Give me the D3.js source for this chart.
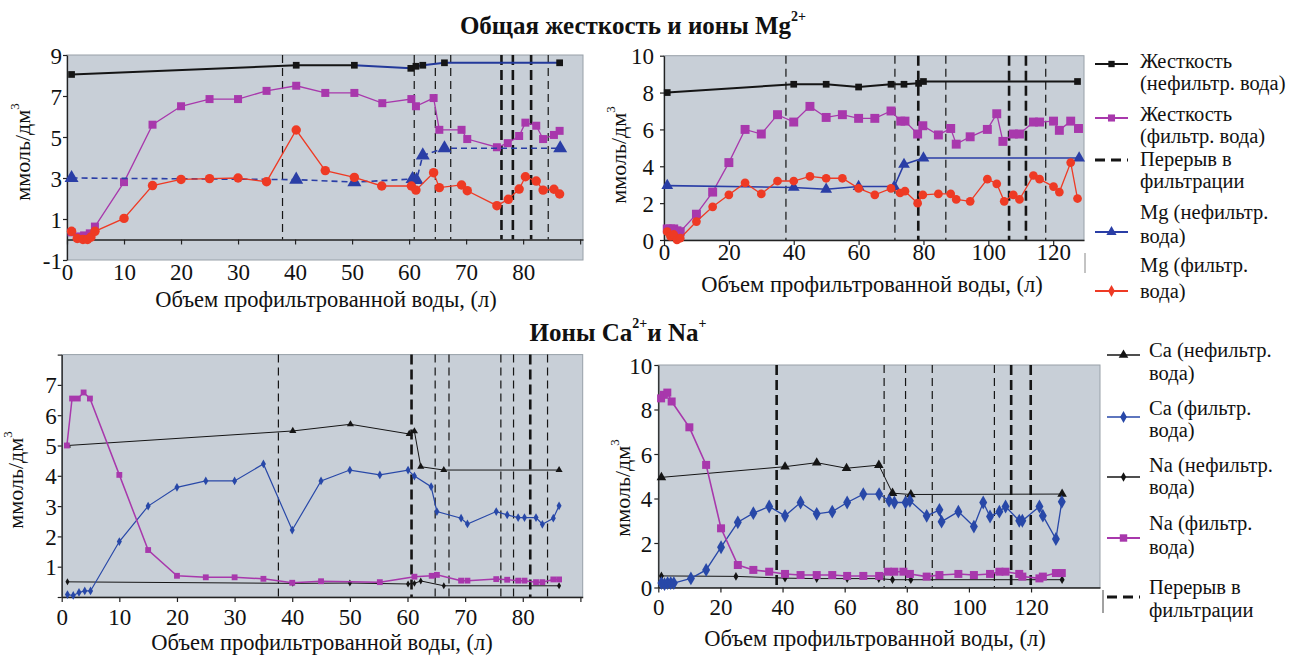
<!DOCTYPE html>
<html>
<head>
<meta charset="utf-8">
<script src="https://cdn.jsdelivr.net/npm/d3@7"></script>
<style>
  body { margin: 0; background: #fff; }
  text, tspan { font-family: 'Liberation Serif' !important; }
</style>
</head>
<body>
<svg width="1303" height="656"></svg>
<script>
// ---- top left: hardness + Mg, first run ----
var hardRawA_x = [0.8, 40.2, 50.4, 60.3, 61.2, 62.4, 66.2, 86.4];
var hardRawA_y = [8.05, 8.5, 8.5, 8.35, 8.45, 8.5, 8.62, 8.62];
var hardFiltA_x = [0.8, 2, 3, 4, 4.9, 10, 15, 20, 25, 30, 35, 40.2, 45.3, 50.4, 55.3, 60.4, 61.2, 64.3, 65.3, 69.2, 70.2, 75.4, 77.3, 79.3, 80.4, 82.3, 83.5, 85.4, 86.4];
var hardFiltA_y = [0.35, 0.15, 0.2, 0.3, 0.63, 2.8, 5.6, 6.5, 6.85, 6.85, 7.25, 7.5, 7.15, 7.15, 6.65, 6.85, 6.5, 6.9, 5.35, 5.35, 4.9, 4.5, 4.7, 5.05, 5.7, 5.55, 4.9, 5.1, 5.3];
var mgRawA_x = [0.8, 40.2, 50.4, 60.6, 61.3, 62.4, 66.2, 86.5];
var mgRawA_y = [3.0, 2.92, 2.8, 2.95, 2.9, 4.1, 4.45, 4.45];
var mgFiltA_x = [0.8, 1.8, 2.8, 3.6, 4.2, 4.9, 10, 15, 20, 25, 30, 35, 40.2, 45.3, 50.4, 55.2, 60.4, 61.2, 64.3, 65.3, 69.2, 70.2, 75.4, 77.4, 79.3, 80.4, 82.3, 83.5, 85.4, 86.4];
var mgFiltA_y = [0.4, 0.05, 0.0, 0.0, 0.12, 0.4, 1.03, 2.63, 2.93, 2.97, 3.0, 2.82, 5.34, 3.36, 3.03, 2.61, 2.61, 2.41, 3.26, 2.53, 2.66, 2.38, 1.65, 1.96, 2.46, 3.06, 2.85, 2.41, 2.45, 2.22];
var breaksA = [37.8, 60.9, 64.6, 67.3, 84.4];
var breaksAWide = [76.2, 78.2, 81.4];
var xTicksA = [0, 10, 20, 30, 40, 50, 60, 70, 80, 90];
var yTicksA = [-1, 1, 3, 5, 7, 9];

// ---- top right: hardness + Mg, second run ----
var hardRawB_x = [1, 40, 50, 60, 70, 74, 78.5, 80, 127.5];
var hardRawB_y = [8.0, 8.45, 8.45, 8.3, 8.45, 8.45, 8.5, 8.6, 8.6];
var hardFiltB_x = [1, 2, 3, 4, 5, 10, 15, 20, 25, 30, 35, 40, 45, 50, 55, 60, 65, 70, 73, 74.3, 78.2, 79.8, 84.6, 88.4, 90.1, 94.4, 99.7, 102.6, 104.5, 107.7, 109.6, 113.9, 115.8, 120.1, 121.9, 125.4, 127.8];
var hardFiltB_y = [0.6, 0.6, 0.6, 0.5, 0.45, 1.4, 2.6, 4.2, 6.0, 5.75, 6.8, 6.4, 7.25, 6.65, 6.8, 6.6, 6.6, 7.0, 6.45, 6.45, 5.75, 6.2, 5.7, 6.05, 5.2, 5.6, 6.0, 6.85, 5.35, 5.75, 5.75, 6.4, 6.4, 6.45, 5.95, 6.45, 6.05];
var mgRawB_x = [1, 40, 50, 60, 71, 74, 80, 128];
var mgRawB_y = [2.95, 2.85, 2.75, 2.9, 2.9, 4.1, 4.45, 4.45];
var mgFiltB_x = [1, 2, 3, 4, 5, 10, 15, 20, 25, 30, 35, 40, 45, 50, 55, 60, 65, 70, 72.8, 74.3, 78.2, 79.8, 84.6, 88.4, 90.1, 94.4, 99.7, 102.6, 104.9, 107.7, 109.6, 113.9, 115.8, 120.1, 121.9, 125.4, 127.5];
var mgFiltB_y = [0.45, 0.2, 0.3, 0.0, 0.1, 1.0, 1.8, 2.45, 3.1, 2.5, 3.2, 3.2, 3.45, 3.35, 3.35, 2.8, 2.45, 2.8, 2.55, 2.65, 2.0, 2.45, 2.5, 2.5, 2.2, 2.1, 3.3, 3.05, 2.1, 2.45, 2.2, 3.5, 3.3, 2.9, 2.6, 4.2, 2.25];
var breaksB = [37.6, 71.2, 86.9, 117.7];
var breaksBWide = [78.4, 106.4, 111.6];
var xTicksB = [0, 20, 40, 60, 80, 100, 120];
var yTicksB = [0, 2, 4, 6, 8, 10];

// ---- bottom left: Ca + Na, first run ----
var caRawC_x = [1, 40.1, 50.1, 60.3, 61.2, 62.3, 66.3, 86.3];
var caRawC_y = [5.0, 5.48, 5.7, 5.38, 5.47, 4.3, 4.19, 4.19];
var caFiltC_x = [1, 2, 3, 4, 5, 10, 15, 20, 25, 30, 35, 40, 45, 50, 55.2, 60.1, 61.2, 64.1, 65.1, 69.3, 70.4, 75.4, 77.3, 79.2, 80.3, 82.3, 83.4, 85.3, 86.3];
var caFiltC_y = [0.08, 0.05, 0.15, 0.2, 0.2, 1.83, 3.0, 3.62, 3.83, 3.83, 4.39, 2.21, 3.83, 4.19, 4.03, 4.19, 3.99, 3.64, 2.82, 2.6, 2.41, 2.82, 2.71, 2.62, 2.62, 2.62, 2.4, 2.6, 3.01];
var naRawC_x = [1, 40.1, 50, 60.1, 61.2, 62.3, 66.3, 86.3];
var naRawC_y = [0.5, 0.45, 0.46, 0.43, 0.45, 0.53, 0.37, 0.37];
var naFiltC_x = [0.9, 1.8, 2.8, 3.8, 4.9, 10, 15, 20, 25, 30, 35, 40, 45, 55.2, 61.2, 64.2, 65.1, 69.3, 70.4, 75.4, 77.3, 79.2, 80.3, 82.3, 83.4, 85.3, 86.3];
var naFiltC_y = [5.0, 6.55, 6.55, 6.75, 6.55, 4.03, 1.55, 0.7, 0.65, 0.65, 0.6, 0.47, 0.52, 0.49, 0.67, 0.7, 0.73, 0.54, 0.54, 0.59, 0.57, 0.54, 0.54, 0.49, 0.49, 0.58, 0.58];
var breaksC = [37.6, 64.8, 67.2, 76.2, 78.4, 84.3];
var breaksCWide = [60.7, 81.3];
var xTicksC = [0, 10, 20, 30, 40, 50, 60, 70, 80, 90];
var yTicksC = [0, 1, 2, 3, 4, 5, 6, 7, 8];

// ---- bottom right: Ca + Na, second run ----
var caRawD_x = [1, 40.8, 51, 60.6, 71, 75.4, 81.3, 130];
var caRawD_y = [4.95, 5.43, 5.61, 5.36, 5.5, 4.24, 4.18, 4.2];
var caFiltD_x = [1, 2, 3, 4, 5, 10.5, 15.4, 20.2, 25.6, 30.6, 35.7, 40.8, 45.8, 51, 56, 60.8, 66, 71.1, 74.3, 76, 79.6, 81, 86.4, 90.5, 91.2, 96.6, 101.6, 104.6, 106.8, 109.8, 111.8, 116.2, 117.2, 122.7, 123.8, 128, 129.9];
var caFiltD_y = [0.2, 0.15, 0.2, 0.2, 0.2, 0.41, 0.79, 1.81, 2.93, 3.34, 3.64, 3.22, 3.82, 3.31, 3.41, 3.82, 4.2, 4.2, 3.9, 3.82, 3.82, 3.9, 3.22, 3.49, 2.96, 3.41, 2.74, 3.82, 3.19, 3.41, 3.64, 3.0, 3.0, 3.64, 3.23, 2.18, 3.85];
var naRawD_x = [1, 25, 40.8, 51, 60.8, 71, 75.4, 81.3, 130];
var naRawD_y = [0.52, 0.5, 0.42, 0.4, 0.4, 0.4, 0.35, 0.35, 0.35];
var naFiltD_x = [0.9, 1.8, 2.9, 4.3, 10, 15.4, 20.2, 25.6, 30.6, 35.7, 40.8, 45.8, 51, 56, 60.8, 66, 71.1, 73.9, 76, 78.9, 81, 86.4, 90.5, 96.6, 101.6, 106.8, 109.8, 111.8, 116.2, 117.2, 122.7, 123.8, 128, 129.9];
var naFiltD_y = [8.5, 8.66, 8.76, 8.36, 7.2, 5.51, 2.66, 1.01, 0.79, 0.71, 0.61, 0.56, 0.56, 0.56, 0.52, 0.52, 0.52, 0.71, 0.71, 0.71, 0.61, 0.49, 0.56, 0.61, 0.56, 0.61, 0.71, 0.71, 0.61, 0.49, 0.41, 0.49, 0.65, 0.65];
var breaksD = [72.7, 79.6, 88.2, 108.2];
var breaksDWide = [38.1, 113.6, 119.9];
var xTicksD = [0, 20, 40, 60, 80, 100, 120];
var yTicksD = [0, 2, 4, 6, 8, 10];

var legendTop = [["Жесткость", "(нефильтр. вода)"], ["Жесткость", "(фильтр. вода)"], ["Перерыв в", "фильтрации"], ["Mg (нефильтр.", "вода)"], ["Mg (фильтр.", "вода)"]];
var legendBottom = [["Ca (нефильтр.", "вода)"], ["Ca (фильтр.", "вода)"], ["Na (нефильтр.", "вода)"], ["Na (фильтр.", "вода)"], ["Перерыв в", "фильтрации"]];
var xTitle = "Объем профильтрованной воды, (л)";

var SERIF = "Liberation Serif";
var BLACK = "#151515", MAG = "#a838ac", RED = "#ee3a24", BLUE = "#2a3ea6", BLUE2 = "#2848a8";

var svg = d3.select("svg").attr("font-family", SERIF);

function txt(sel) {
  return sel.attr("font-family", SERIF).style("font-family", "'Liberation Serif'").attr("fill", "#111");
}

function drawSeries(g, x, y, xs, ys, st) {
  var pts = xs.map(function (v, i) { return [v, ys[i]]; });
  var line = d3.line().x(function (d) { return x(d[0]); }).y(function (d) { return y(d[1]); });
  if (st.tailFrom != null) {
    g.append("path").datum(pts.filter(function (d) { return d[0] <= st.tailFrom; }))
      .attr("d", line).attr("fill", "none").attr("stroke", st.color).attr("stroke-width", st.width);
    g.append("path").datum(pts.filter(function (d) { return d[0] >= st.tailFrom; }))
      .attr("d", line).attr("fill", "none").attr("stroke", st.tailColor).attr("stroke-width", st.width);
  } else {
    g.append("path").datum(pts).attr("d", line).attr("fill", "none")
      .attr("stroke", st.color).attr("stroke-width", st.width)
      .attr("stroke-dasharray", st.dash || null);
  }
  g.selectAll(null).data(pts).enter().append("path")
    .attr("transform", function (d) { return "translate(" + x(d[0]) + "," + y(d[1]) + ")"; })
    .attr("d", d3.symbol().type(st.symbol).size(st.size))
    .attr("fill", st.mcolor || st.color);
}

function panel(cfg) {
  var x = d3.scaleLinear().domain(cfg.xDomain).range([cfg.left, cfg.right]);
  var y = d3.scaleLinear().domain(cfg.yDomain).range([cfg.bottom, cfg.top]);
  var g = svg.append("g");
  g.append("rect")
    .attr("x", cfg.left).attr("y", cfg.top)
    .attr("width", cfg.right - cfg.left).attr("height", cfg.bottom - cfg.top)
    .attr("fill", "#c8cfd7").attr("stroke", "#98a0a8").attr("stroke-width", 1);

  var y0 = y(0);
  // breaks in filtration
  g.selectAll(null).data(cfg.breaks).enter().append("line")
    .attr("x1", x).attr("x2", x).attr("y1", cfg.top).attr("y2", y0)
    .attr("stroke", BLACK).attr("stroke-width", 1.2).attr("stroke-dasharray", "8,5");
  g.selectAll(null).data(cfg.breaksWide).enter().append("line")
    .attr("x1", x).attr("x2", x).attr("y1", cfg.top).attr("y2", y0)
    .attr("stroke", BLACK).attr("stroke-width", 2.6).attr("stroke-dasharray", "10,5");

  // axes
  var xAxis = d3.axisBottom(x).tickValues(cfg.xTicks).tickSize(5).tickSizeOuter(0)
    .tickFormat(function (d) { return cfg.xLabels.indexOf(d) >= 0 ? d : ""; });
  var gx = g.append("g").attr("transform", "translate(0," + y0 + ")").call(xAxis).attr("font-family", SERIF);
  gx.select(".domain").attr("stroke", "#222").attr("stroke-width", 1.3);
  gx.selectAll(".tick line").attr("stroke", "#222").attr("stroke-width", 1.2);
  txt(gx.selectAll(".tick text")).attr("y", cfg.xLabelY).attr("dy", 0).attr("font-size", 23);

  var yAxis = d3.axisLeft(y).tickValues(cfg.yTicks).tickSize(4).tickSizeOuter(0)
    .tickFormat(function (d) { return cfg.yLabels.indexOf(d) >= 0 ? d : ""; });
  var gy = g.append("g").attr("transform", "translate(" + cfg.left + ",0)").call(yAxis).attr("font-family", SERIF);
  gy.select(".domain").attr("stroke", "#222").attr("stroke-width", 1.3);
  gy.selectAll(".tick line").attr("stroke", "#222").attr("stroke-width", 1.2);
  txt(gy.selectAll(".tick text")).attr("x", cfg.yLabelX).attr("dy", "0.35em").attr("font-size", 23);

  // titles
  txt(g.append("text")).attr("x", cfg.xTitle[0]).attr("y", cfg.xTitle[1])
    .attr("text-anchor", "middle").attr("font-size", 22.5).text(xTitle);
  var yt = txt(g.append("text"))
    .attr("transform", "translate(" + cfg.yTitle[0] + "," + cfg.yTitle[1] + ") rotate(-90)")
    .attr("text-anchor", "middle").attr("dy", "0.35em").attr("font-size", 22);
  yt.append("tspan").text("ммоль/дм");
  yt.append("tspan").attr("font-size", 13).attr("dy", "-0.8em").text("3");

  cfg.series.forEach(function (s) { drawSeries(g, x, y, s[0], s[1], s[2]); });
}

var sq = d3.symbolSquare, ci = d3.symbolCircle, tri = d3.symbolTriangle, dia = d3.symbolDiamond;

panel({
  left: 67, right: 583, top: 55, bottom: 260, xDomain: [0, 90.5], yDomain: [-1, 9],
  xTicks: xTicksA, xLabels: [0, 10, 20, 30, 40, 50, 60, 70, 80], yTicks: yTicksA, yLabels: yTicksA,
  xLabelY: 40, yLabelX: -5, breaks: breaksA, breaksWide: breaksAWide,
  xTitle: [326, 307], yTitle: [22, 152],
  series: [
    [hardRawA_x, hardRawA_y, { color: BLACK, width: 2, symbol: sq, size: 45, tailFrom: 50.4, tailColor: "#23399a" }],
    [hardFiltA_x, hardFiltA_y, { color: MAG, width: 1.3, symbol: sq, size: 64 }],
    [mgRawA_x, mgRawA_y, { color: BLUE, width: 1.6, dash: "6,4", symbol: tri, size: 85 }],
    [mgFiltA_x, mgFiltA_y, { color: RED, width: 1.3, symbol: ci, size: 70 }]
  ]
});

panel({
  left: 664, right: 1084, top: 55.7, bottom: 240, xDomain: [0, 129.5], yDomain: [0, 10],
  xTicks: xTicksB, xLabels: xTicksB, yTicks: yTicksB, yLabels: yTicksB,
  xLabelY: 20, yLabelX: -10, breaks: breaksB, breaksWide: breaksBWide,
  xTitle: [872, 292], yTitle: [618, 155],
  series: [
    [hardRawB_x, hardRawB_y, { color: BLACK, width: 2, symbol: sq, size: 45 }],
    [hardFiltB_x, hardFiltB_y, { color: MAG, width: 1.3, symbol: sq, size: 80 }],
    [mgRawB_x, mgRawB_y, { color: BLUE, width: 1.6, symbol: tri, size: 60 }],
    [mgFiltB_x, mgFiltB_y, { color: RED, width: 1.3, symbol: ci, size: 60 }]
  ]
});

panel({
  left: 61.7, right: 582.7, top: 354.6, bottom: 597, xDomain: [0, 90.4], yDomain: [0, 8],
  xTicks: xTicksC, xLabels: [0, 10, 20, 30, 40, 50, 60, 70, 80], yTicks: yTicksC, yLabels: [1, 2, 3, 4, 5, 6, 7],
  xLabelY: 28, yLabelX: -5, breaks: breaksC, breaksWide: breaksCWide,
  xTitle: [322, 650], yTitle: [15, 480],
  series: [
    [caRawC_x, caRawC_y, { color: BLACK, width: 1, symbol: tri, size: 22 }],
    [naRawC_x, naRawC_y, { color: BLACK, width: 1, symbol: dia, size: 14 }],
    [caFiltC_x, caFiltC_y, { color: BLUE2, width: 1.2, symbol: dia, size: 22 }],
    [naFiltC_x, naFiltC_y, { color: MAG, width: 1.5, symbol: sq, size: 34 }]
  ]
});

panel({
  left: 658.3, right: 1100, top: 365, bottom: 587.5, xDomain: [0, 142.2], yDomain: [0, 10],
  xTicks: xTicksD, xLabels: xTicksD, yTicks: yTicksD, yLabels: yTicksD,
  xLabelY: 27, yLabelX: -6, breaks: breaksD, breaksWide: breaksDWide,
  xTitle: [875, 646], yTitle: [622, 488],
  series: [
    [caRawD_x, caRawD_y, { color: BLACK, width: 1, symbol: tri, size: 40 }],
    [naRawD_x, naRawD_y, { color: BLACK, width: 1, symbol: dia, size: 22 }],
    [caFiltD_x, caFiltD_y, { color: BLUE2, width: 1.3, symbol: dia, size: 55 }],
    [naFiltD_x, naFiltD_y, { color: MAG, width: 1.6, symbol: sq, size: 64 }]
  ]
});

// main titles
var t1 = txt(svg.append("text")).attr("x", 633).attr("y", 34).attr("text-anchor", "middle")
  .attr("font-size", 25).attr("font-weight", "bold");
t1.append("tspan").text("Общая жесткость и ионы Mg");
t1.append("tspan").attr("font-size", 14).attr("dy", "-0.95em").text("2+");

var t2 = txt(svg.append("text")).attr("x", 618).attr("y", 341).attr("text-anchor", "middle")
  .attr("font-size", 25).attr("font-weight", "bold");
t2.append("tspan").text("Ионы Ca");
t2.append("tspan").attr("font-size", 14).attr("dy", "-0.95em").text("2+");
t2.append("tspan").attr("dy", "0.53em").text("и Na");
t2.append("tspan").attr("font-size", 14).attr("dy", "-0.95em").text("+");

// legends
function legend(items, styles, lineX, textX, rows, markY) {
  var g = svg.append("g");
  items.forEach(function (it, i) {
    var st = styles[i];
    g.append("line").attr("x1", lineX[0]).attr("x2", lineX[1]).attr("y1", markY[i]).attr("y2", markY[i])
      .attr("stroke", st.color).attr("stroke-width", st.width).attr("stroke-dasharray", st.dash || null);
    if (st.symbol) {
      g.append("path").attr("transform", "translate(" + (lineX[0] + lineX[1]) / 2 + "," + markY[i] + ")")
        .attr("d", d3.symbol().type(st.symbol).size(st.size)).attr("fill", st.color);
    }
    txt(g.append("text")).attr("x", textX).attr("y", rows[i][0]).attr("font-size", 20.5).text(it[0]);
    txt(g.append("text")).attr("x", textX).attr("y", rows[i][1]).attr("font-size", 20.5).text(it[1]);
  });
  return g;
}

legend(legendTop, [
  { color: BLACK, width: 2, symbol: sq, size: 40 },
  { color: MAG, width: 2, symbol: sq, size: 50 },
  { color: BLACK, width: 3, dash: "10,6" },
  { color: BLUE, width: 2, symbol: tri, size: 45 },
  { color: RED, width: 2, symbol: dia, size: 40 }
], [1095, 1128], 1140, [[68, 90], [121, 143], [166, 188], [219, 243], [272, 298]], [64, 118, 160, 232, 291]);

legend(legendBottom, [
  { color: BLACK, width: 1.3, symbol: tri, size: 40 },
  { color: BLUE2, width: 1.6, symbol: dia, size: 40 },
  { color: BLACK, width: 1.3, symbol: dia, size: 25 },
  { color: MAG, width: 2, symbol: sq, size: 55 },
  { color: BLACK, width: 3, dash: "10,6" }
], [1107, 1140], 1149, [[357, 380], [415, 437], [472, 494], [530, 554], [594, 617]], [355, 417, 477, 538, 597]);

// little frame fragments next to the legends
svg.append("line").attr("x1", 1085).attr("x2", 1085).attr("y1", 253).attr("y2", 273).attr("stroke", "#888");
svg.append("line").attr("x1", 1103).attr("x2", 1103).attr("y1", 590).attr("y2", 613).attr("stroke", "#444");
</script>
</body>
</html>
